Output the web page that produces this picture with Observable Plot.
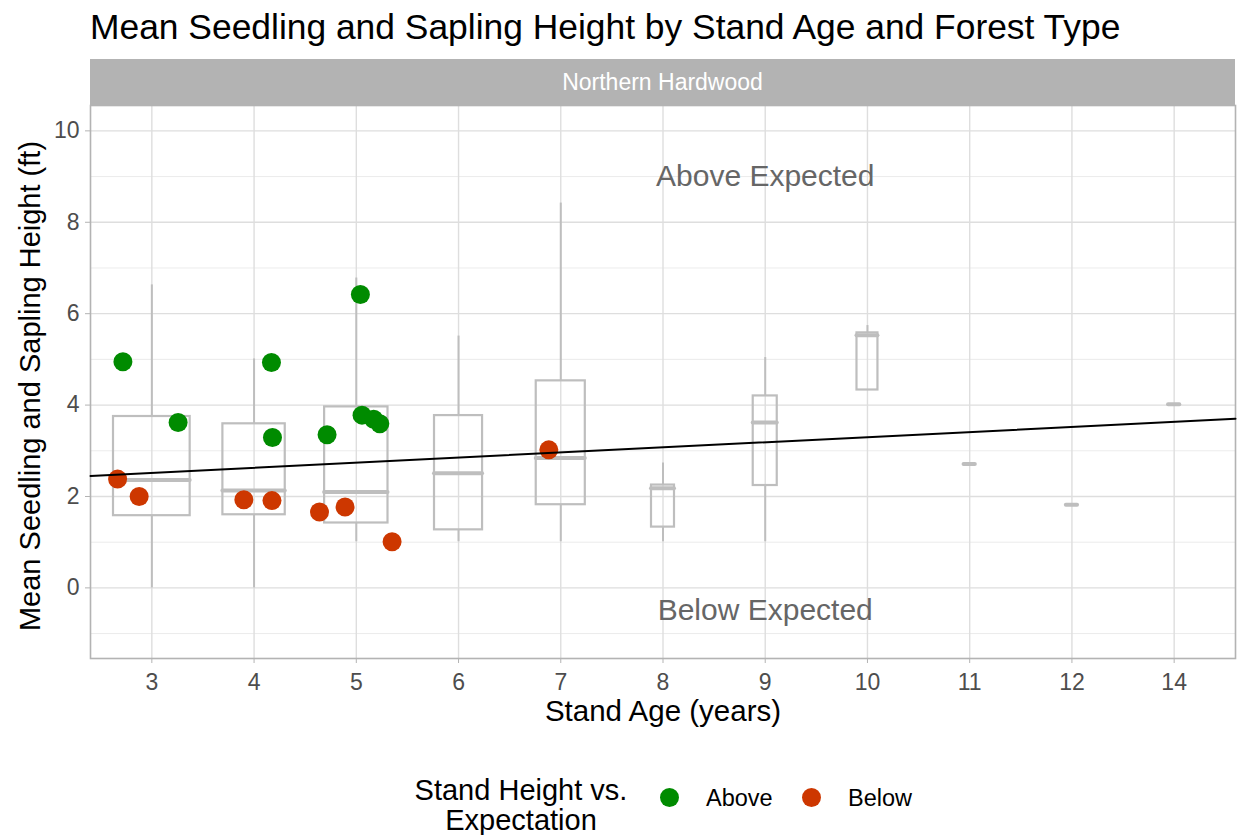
<!DOCTYPE html>
<html><head><meta charset="utf-8">
<script src="https://cdn.jsdelivr.net/npm/d3@7"></script>
<script src="https://cdn.jsdelivr.net/npm/@observablehq/plot@0.6"></script>
<style>
body{margin:0;background:#fff;font-family:"Liberation Sans",Arial,sans-serif;}
#wrap{position:relative;width:1238px;height:835px;overflow:hidden;background:#fff;}
#title{position:absolute;left:90px;top:10px;font-size:35.4px;line-height:35px;color:#000;white-space:nowrap;}
#strip{position:absolute;left:90px;top:59px;width:1145px;height:46px;background:#B3B3B3;color:#fff;font-size:23px;line-height:46px;text-align:center;z-index:2;}
#chart{position:absolute;left:0;top:95px;}
.lt{position:absolute;font-size:29px;line-height:30px;text-align:center;color:#000;white-space:nowrap;}
.ll{position:absolute;font-size:23.5px;line-height:24px;color:#000;white-space:nowrap;}
.dot{position:absolute;width:19px;height:19px;border-radius:50%;}
</style></head><body>
<div id="wrap">
  <div id="title">Mean Seedling and Sapling Height by Stand Age and Forest Type</div>
  <div id="strip">Northern Hardwood</div>
  <div id="chart"></div>
  <div class="lt" style="left:381px;top:775px;width:280px;">Stand Height vs.<br>Expectation</div>
  <div class="dot" style="left:659.5px;top:787.5px;background:#008B00;"></div>
  <div class="ll" style="left:706px;top:786px;">Above</div>
  <div class="dot" style="left:801.5px;top:787.5px;background:#CD3700;"></div>
  <div class="ll" style="left:848px;top:786px;">Below</div>
</div>
<script>
// Categories (stand age, discrete axis)
const ages = ["3","4","5","6","7","8","9","10","11","12","14"];
// Box plot statistics per stand age (ft)
const whiskerLow  = [0.00, 0.00, 1.01, 1.01, 1.01, 1.01, 1.01, 4.33, 2.71, 1.82, 4.02];
const q1          = [1.58, 1.60, 1.42, 1.27, 1.82, 1.33, 2.24, 4.33, 2.71, 1.82, 4.02];
const median      = [2.36, 2.13, 2.10, 2.51, 2.84, 2.18, 3.62, 5.53, 2.71, 1.82, 4.02];
const q3          = [3.75, 3.59, 3.96, 3.77, 4.53, 2.25, 4.20, 5.58, 2.71, 1.82, 4.02];
const whiskerHigh = [6.63, 5.01, 6.78, 5.51, 8.42, 2.73, 5.04, 5.74, 2.71, 1.82, 4.02];
// relative box widths (varwidth), in category units
const boxWidth    = [0.75, 0.61, 0.62, 0.47, 0.48, 0.225, 0.235, 0.205, 0.11, 0.11, 0.11];

// Individual stands (jittered points)
const pointAge    = ["3","3","4","4","5","5","5","5","5","3","3","4","4","5","5","5","7"];
const pointJitter = [-0.283,0.257,0.17,0.18,0.04,-0.286,0.056,0.17,0.23,-0.335,-0.124,-0.10,0.175,-0.36,-0.11,0.35,-0.117];
const pointHeight = [4.95,3.62,4.93,3.29,6.42,3.35,3.78,3.69,3.59,2.38,2.00,1.93,1.91,1.66,1.77,1.01,3.02];
const pointGroup  = ["Above","Above","Above","Above","Above","Above","Above","Above","Above",
                     "Below","Below","Below","Below","Below","Below","Below","Below"];

// Fitted trend line end points (category position, ft)
const trendX = [-0.6, 10.6];
const trendY = [2.45, 3.70];

const groupColors = {Above: "#008B00", Below: "#CD3700"};
const yMajor = [0, 2, 4, 6, 8, 10];
const yMinor = [-1, 1, 3, 5, 7, 9];

const boxes = ages.map((a, i) => ({
  i, lo: whiskerLow[i], q1: q1[i], med: median[i], q3: q3[i], hi: whiskerHigh[i], w: boxWidth[i]
}));
const multi = boxes.filter(b => b.q3 > b.q1);
const points = pointAge.map((a, k) => ({
  x: ages.indexOf(a) + pointJitter[k], y: pointHeight[k], g: pointGroup[k]
}));
const trend = trendX.map((x, k) => ({x, y: trendY[k]}));
const notes = [
  {x: ages.indexOf("9"), y: 9, t: "Above Expected"},
  {x: ages.indexOf("9"), y: -0.5, t: "Below Expected"}
];

const chart = Plot.plot({
  width: 1238,
  height: 653,
  marginTop: 10,
  marginBottom: 90,
  marginLeft: 90,
  marginRight: 3,
  style: {fontFamily: "'Liberation Sans', Arial, sans-serif", fontSize: "23px", background: "transparent", overflow: "visible"},
  x: {type: "linear", domain: [-0.6, 10.6]},
  y: {domain: [-1.545, 10.555]},
  marks: [
    Plot.gridY({ticks: yMinor, stroke: "#E6E6E6", strokeOpacity: 1, strokeWidth: 0.8}),
    Plot.gridY({ticks: yMajor, stroke: "#DEDEDE", strokeOpacity: 1, strokeWidth: 1.4}),
    Plot.gridX({ticks: d3.range(ages.length), stroke: "#DEDEDE", strokeOpacity: 1, strokeWidth: 1.4}),
    Plot.frame({stroke: "#B3B3B3", strokeWidth: 1.6}),
    Plot.axisY({ticks: yMajor, tickSize: 5, tickPadding: 6, stroke: "#B3B3B3", fill: "#4D4D4D", fontSize: 23, label: null}),
    Plot.axisX({ticks: d3.range(ages.length), tickFormat: i => ages[i], tickSize: 5, tickPadding: 10,
                stroke: "#B3B3B3", fill: "#4D4D4D", fontSize: 23, label: null}),
    // whiskers
    Plot.ruleX(multi, {x: "i", y1: "q3", y2: "hi", stroke: "#BEBEBE", strokeWidth: 2}),
    Plot.ruleX(multi, {x: "i", y1: "lo", y2: "q1", stroke: "#BEBEBE", strokeWidth: 2}),
    // boxes
    Plot.rect(multi, {x1: d => d.i - d.w / 2, x2: d => d.i + d.w / 2, y1: "q1", y2: "q3",
                      fill: "none", stroke: "#BEBEBE", strokeWidth: 2.2}),
    // medians
    Plot.ruleY(boxes, {y: "med", x1: d => d.i - d.w / 2, x2: d => d.i + d.w / 2,
                       stroke: "#BEBEBE", strokeWidth: 4, strokeLinecap: "round"}),
    Plot.text(notes, {x: "x", y: "y", text: "t", fill: "#666666", fontSize: 30}),
    Plot.dot(points, {x: "x", y: "y", r: 9.5, fill: d => groupColors[d.g], stroke: "none"}),
    Plot.line(trend, {x: "x", y: "y", stroke: "#000", strokeWidth: 2}),
    Plot.text(["Stand Age (years)"], {frameAnchor: "bottom", dy: 62, fill: "#000", fontSize: 29.5}),
    Plot.text(["Mean Seedling and Sapling Height (ft)"], {frameAnchor: "left", textAnchor: "middle", dx: -60, dy: 4, rotate: -90, fill: "#000", fontSize: 29})
  ]
});
document.getElementById("chart").appendChild(chart);
</script>
</body></html>
